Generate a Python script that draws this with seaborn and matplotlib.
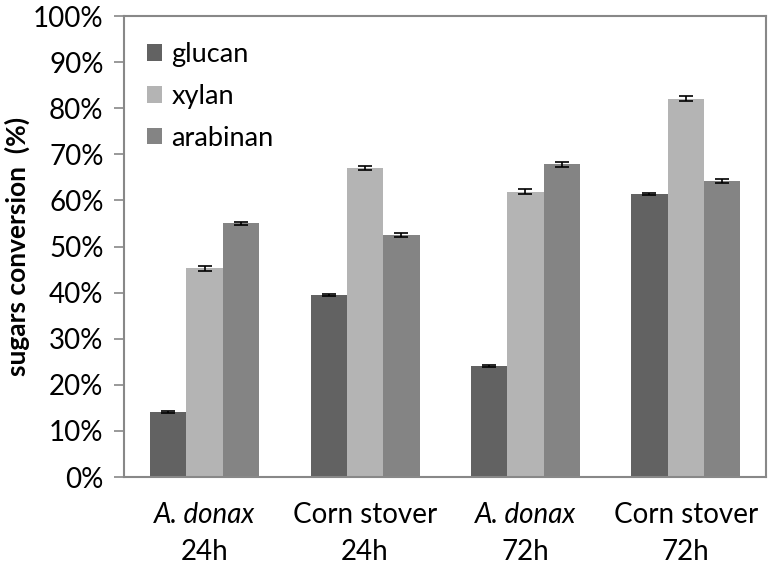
import pandas as pd
import matplotlib
matplotlib.use("Agg")
import matplotlib.pyplot as plt
import seaborn as sns
from matplotlib.ticker import PercentFormatter

samples = ['A. donax 24h', 'Corn stover 24h', 'A. donax 72h', 'Corn stover 72h']
sugars = ['glucan', 'xylan', 'arabinan']
glucan = [14.1, 39.5, 24.1, 61.4]
xylan = [45.3, 67.0, 61.9, 82.1]
arabinan = [55.0, 52.5, 67.8, 64.2]
glucan_err = [0.2, 0.2, 0.2, 0.3]
xylan_err = [0.5, 0.5, 0.5, 0.5]
arabinan_err = [0.4, 0.4, 0.5, 0.5]
label_top = ['A. donax', 'Corn stover', 'A. donax', 'Corn stover']
label_bottom = ['24h', '24h', '72h', '72h']
label_italic = [True, False, True, False]

colors = ['#626262', '#b4b4b4', '#848484']

df = pd.DataFrame({
    'sample': samples * 3,
    'sugar': [s for s in sugars for _ in samples],
    'value': glucan + xylan + arabinan,
    'err': glucan_err + xylan_err + arabinan_err,
})

sns.set_style('white')
plt.rcParams['font.family'] = ['Lato', 'DejaVu Sans']
plt.rcParams['text.color'] = 'black'
plt.rcParams['axes.labelcolor'] = 'black'
plt.rcParams['ytick.labelcolor'] = 'black'

fig, ax = plt.subplots(figsize=(7.73, 5.72), dpi=100)
fig.subplots_adjust(left=0.161, right=0.991, top=0.972, bottom=0.166)

sns.barplot(data=df, x='sample', y='value', hue='sugar', order=samples,
            hue_order=sugars, palette=colors, width=0.68, gap=0,
            errorbar=None, linewidth=0, ax=ax)

# error bars from the err column
for i, sugar in enumerate(sugars):
    cont = ax.containers[i]
    sub = df[df.sugar == sugar].set_index('sample').loc[samples]
    xs = [b.get_x() + b.get_width() / 2 for b in cont]
    ax.errorbar(xs, sub['value'], yerr=sub['err'], fmt='none',
                ecolor='black', elinewidth=1.2, capsize=5, capthick=1.2)

ax.set_ylim(0, 100)
ax.set_yticks(range(0, 101, 10))
ax.yaxis.set_major_formatter(PercentFormatter(decimals=0))
ax.set_xlim(-0.5, 3.5)
ax.set_xlabel('')
ax.set_xticks(range(4))
ax.set_xticklabels([])
ax.set_ylabel('sugars conversion  (%)', fontsize=19, fontweight='bold', labelpad=2)
ax.tick_params(axis='y', labelsize=20, length=7, width=1.2, color='#888888', left=True, pad=8)
ax.tick_params(axis='x', length=0)

for s in ax.spines.values():
    s.set_color('#888888')
    s.set_linewidth(1.5)

trans = ax.get_xaxis_transform()
for i in range(4):
    ax.text(i, -0.055, label_top[i], transform=trans, ha='center', va='top',
            fontsize=20, style='italic' if label_italic[i] else 'normal')
    ax.text(i, -0.135, label_bottom[i], transform=trans, ha='center', va='top',
            fontsize=20)

ax.legend(loc='upper left', frameon=False, fontsize=19.5, handlelength=0.55,
          handleheight=0.55, handletextpad=0.35, labelspacing=0.62,
          bbox_to_anchor=(-0.003, 0.996))

fig.savefig('out.png', dpi=100)
